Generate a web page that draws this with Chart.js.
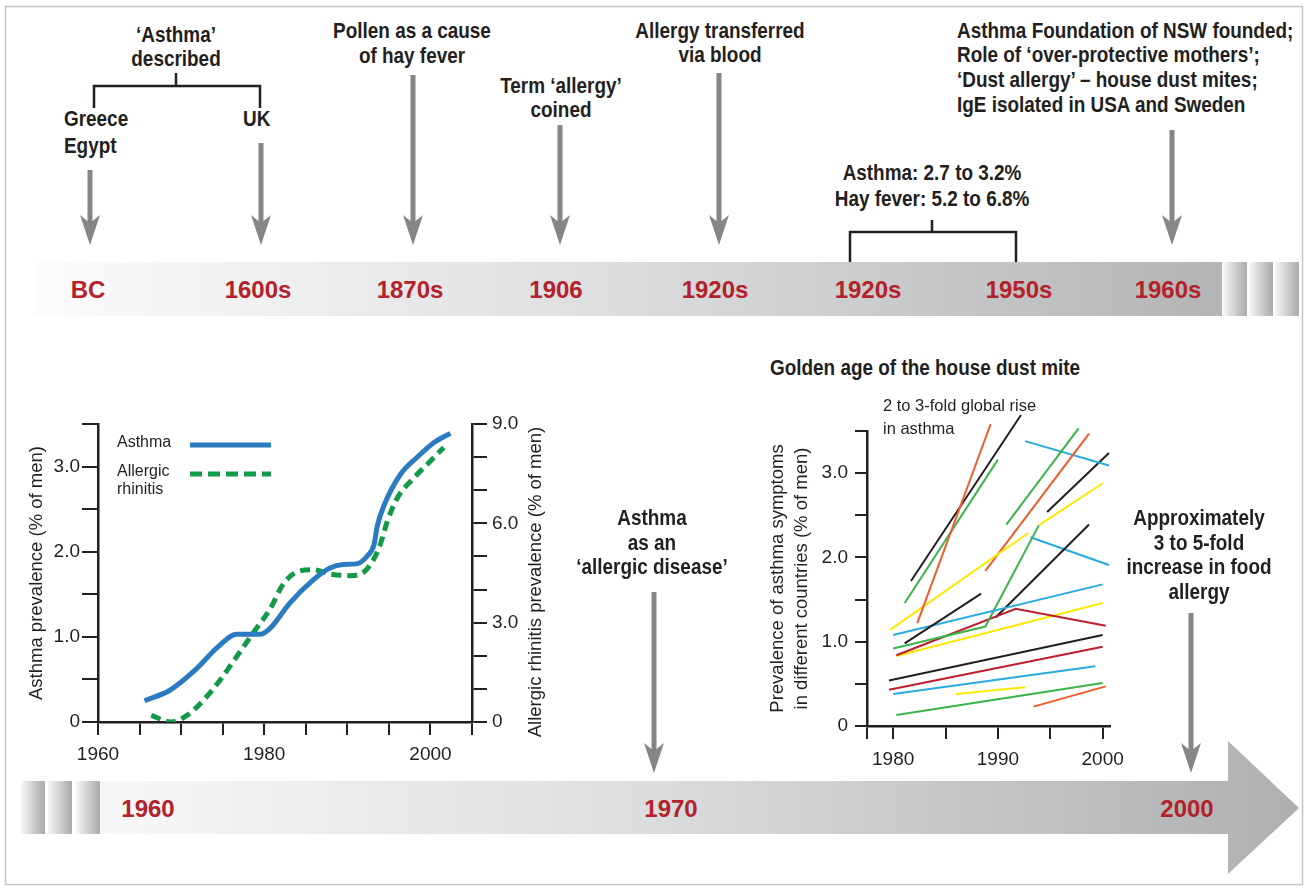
<!DOCTYPE html>
<html>
<head>
<meta charset="utf-8">
<script src="https://cdn.jsdelivr.net/npm/chart.js@4.4.1/dist/chart.umd.min.js"></script>
<style>
  html, body { margin: 0; padding: 0; background: #fff; }
  #page { position: relative; width: 1308px; height: 889px; overflow: hidden; }
  svg.decor { position: absolute; left: 0; top: 0; z-index: 0; }
  canvas { position: absolute; z-index: 1; }
  .note { position: absolute; z-index: 2; white-space: nowrap; color: #231f20;
          font-family: 'Liberation Sans', sans-serif; font-weight: bold; font-size: 22px;
          transform: scaleX(0.86); transform-origin: left center; }
  .c { text-align: center; width: 300px; transform-origin: center center; }
  .plain { position: absolute; z-index: 2; white-space: nowrap; color: #231f20;
           font-family: 'Liberation Sans', sans-serif; font-weight: normal; }
  .era { position: absolute; z-index: 2; width: 120px; height: 30px; line-height: 30px; text-align: center;
         font-family: 'Liberation Sans', sans-serif; font-weight: bold; font-size: 24px; color: #b3222a; }
</style>
</head>
<body>
<div id="page">

<svg class="decor" width="1308" height="889">
  <defs>
    <linearGradient id="gTop" gradientUnits="userSpaceOnUse" x1="35" y1="0" x2="1222" y2="0">
      <stop offset="0" stop-color="#fcfcfc"/>
      <stop offset="0.45" stop-color="#dfe0e2"/>
      <stop offset="1" stop-color="#b3b4b6"/>
    </linearGradient>
    <linearGradient id="gBot" gradientUnits="userSpaceOnUse" x1="100" y1="0" x2="1300" y2="0">
      <stop offset="0" stop-color="#f8f8f8"/>
      <stop offset="0.45" stop-color="#dcdddf"/>
      <stop offset="1" stop-color="#aeafb1"/>
    </linearGradient>
    <linearGradient id="gStripe" x1="0" y1="0" x2="1" y2="0">
      <stop offset="0" stop-color="#f7f7f7"/>
      <stop offset="1" stop-color="#a8a9ab"/>
    </linearGradient>
  </defs>
  <rect x="5.5" y="6.5" width="1297" height="878" fill="none" stroke="#c4c4c4" stroke-width="1.5"/>

  <!-- upper timeline band -->
  <rect x="35" y="262" width="1187" height="54" fill="url(#gTop)"/>
  <rect x="1223" y="262" width="24" height="54" fill="url(#gStripe)"/>
  <rect x="1249" y="262" width="24" height="54" fill="url(#gStripe)"/>
  <rect x="1275" y="262" width="24" height="54" fill="url(#gStripe)"/>

  <!-- lower timeline arrow -->
  <rect x="21" y="781" width="24" height="53" fill="url(#gStripe)"/>
  <rect x="48" y="781" width="24" height="53" fill="url(#gStripe)"/>
  <rect x="76" y="781" width="24" height="53" fill="url(#gStripe)"/>
  <path d="M100,781 H1228 V741 L1299,808 L1228,874 V834 H100 Z" fill="url(#gBot)"/>

  <!-- brackets -->
  <g stroke="#231f20" stroke-width="2.5" fill="none">
    <path d="M176,73 V86 M94,108 V86 H260 V108"/>
    <path d="M932,220 V232 M850,262 V232 H1016 V262"/>
  </g>

  <!-- legend samples for the left chart -->
  <line x1="190" y1="445" x2="271" y2="445" stroke="#2b7bc1" stroke-width="5"/>
  <line x1="190" y1="474" x2="271" y2="474" stroke="#129a48" stroke-width="5" stroke-dasharray="12 6"/>

  <g id="arrows" fill="#858688" stroke="none"></g>
</svg>

<canvas id="trend" width="560" height="380" style="left:0px; top:400px;"></canvas>
<canvas id="mites" width="400" height="390" style="left:740px; top:400px;"></canvas>

<!-- upper annotations -->
<div class="note c" style="left:26px; top:23px; line-height:24px;">‘Asthma’<br>described</div>
<div class="note" style="left:64px; top:104.5px; line-height:27px;">Greece<br>Egypt</div>
<div class="note" style="left:243px; top:104.5px; line-height:27px;">UK</div>
<div class="note c" style="left:262px; top:17.5px; line-height:25px;">Pollen as a cause<br>of hay fever</div>
<div class="note c" style="left:411px; top:74px; line-height:24px;">Term ‘allergy’<br>coined</div>
<div class="note c" style="left:570px; top:19px; line-height:24px;">Allergy transferred<br>via blood</div>
<div class="note" style="left:957px; top:18.6px; line-height:24.7px;">Asthma Foundation of NSW founded;<br>Role of ‘over-protective mothers’;<br>‘Dust allergy’ – house dust mites;<br>IgE isolated in USA and Sweden</div>
<div class="note c" style="left:782px; top:160px; line-height:26px;">Asthma: 2.7 to 3.2%<br>Hay fever: 5.2 to 6.8%</div>

<div class="era" style="left:28px; top:275px;">BC</div>
<div class="era" style="left:198px; top:275px;">1600s</div>
<div class="era" style="left:350px; top:275px;">1870s</div>
<div class="era" style="left:496px; top:275px;">1906</div>
<div class="era" style="left:655px; top:275px;">1920s</div>
<div class="era" style="left:808px; top:275px;">1920s</div>
<div class="era" style="left:959px; top:275px;">1950s</div>
<div class="era" style="left:1108px; top:275px;">1960s</div>

<!-- lower annotations -->
<div class="plain" style="left:117px; top:431px; font-size:16px; line-height:22px;">Asthma</div>
<div class="plain" style="left:117px; top:462px; font-size:16px; line-height:18px;">Allergic<br>rhinitis</div>
<div class="plain" style="left:335px; top:571px; width:400px; text-align:center; font-size:18.5px; line-height:22px; transform:rotate(-90deg);">Allergic rhinitis prevalence (% of men)</div>

<div class="note" style="left:770px; top:356px; line-height:24px;">Golden age of the house dust mite</div>
<div class="plain" style="left:883px; top:393.5px; font-size:16.5px; line-height:23px;">2 to 3-fold global rise<br>in asthma</div>
<div class="note c" style="left:502px; top:506px; line-height:24.5px;">Asthma<br>as an<br>‘allergic disease’</div>
<div class="note c" style="left:1049px; top:506px; line-height:24.5px;">Approximately<br>3 to 5-fold<br>increase in food<br>allergy</div>

<div class="era" style="left:88px; top:794px;">1960</div>
<div class="era" style="left:611px; top:794px;">1970</div>
<div class="era" style="left:1127px; top:794px;">2000</div>

</div>

<script>
// ====== DATA: asthma vs allergic rhinitis (left panel) ======
const asthmaYears  = [1965.6, 1968.6, 1971.9, 1974.3, 1976.7, 1979.5, 1980.7, 1983.1, 1985.9, 1987.9,
                      1989.5, 1991.2, 1992.4, 1993.2, 1993.6, 1994.4, 1996.4, 1998.4, 2000.4, 2002.4];
const asthmaValues = [0.25, 0.37, 0.63, 0.87, 1.03, 1.03, 1.10, 1.40, 1.67, 1.81,
                      1.85, 1.86, 1.95, 2.08, 2.30, 2.54, 2.91, 3.11, 3.28, 3.39];

const rhinitisYears  = [1966.4, 1968.8, 1970.7, 1972.7, 1974.7, 1976.7, 1978.7, 1980.7, 1982.3, 1983.9,
                        1985.9, 1987.9, 1990.4, 1992.0, 1993.2, 1994.0, 1994.8, 1996.0, 1998.0, 2000.0, 2001.6];
const rhinitisValues = [0.20, 0.00, 0.20, 0.66, 1.27, 1.98, 2.70, 3.41, 4.17, 4.53,
                        4.60, 4.47, 4.42, 4.53, 4.93, 5.39, 6.05, 6.76, 7.37, 7.88, 8.29];

const trendTickYears  = [1960, 1965, 1970, 1975, 1980, 1985, 1990, 1995, 2000, 2005];
const trendLabelYears = [1960, 1980, 2000];
const asthmaTicks     = [0, 0.5, 1, 1.5, 2, 2.5, 3, 3.5];
const asthmaLabels    = [0, 1, 2, 3];
const rhinitisTicks   = [0, 1, 2, 3, 4, 5, 6, 7, 8, 9];
const rhinitisLabels  = [0, 3, 6, 9];

// ====== DATA: house dust mite era, one line per country (right panel) ======
const miteColors = ['#f15a29', '#231f20', '#39b54a', '#231f20', '#ffe800', '#29abe2', '#39b54a', '#be1e2d',
                    '#ffe800', '#231f20', '#f15a29', '#39b54a', '#29abe2', '#231f20', '#ffe800', '#29abe2',
                    '#231f20', '#be1e2d', '#29abe2', '#ffe800', '#39b54a', '#f15a29'];
const miteYears = [
  [1982.3, 1989.3], [1981.7, 1992.2], [1981.1, 1990.0], [1981.1, 1988.4],
  [1979.7, 1992.9], [1980.0, 2000.0], [1980.0, 1988.8, 1993.9], [1980.3, 1991.7, 2000.3],
  [1980.3, 2000.0], [1989.8, 1998.7], [1988.8, 1998.7], [1990.8, 1997.7],
  [1992.6, 2000.6], [1994.7, 2000.6], [1993.9, 2000.0], [1993.1, 2000.6],
  [1979.6, 2000.0], [1979.6, 2000.0], [1980.0, 1999.3], [1986.0, 1992.6],
  [1980.3, 2000.0], [1993.4, 2000.3]
];
const miteValues = [
  [1.22, 3.58], [1.72, 3.69], [1.46, 3.16], [0.98, 1.57],
  [1.14, 2.29], [1.08, 1.68], [0.92, 1.18, 2.38], [0.84, 1.39, 1.19],
  [0.83, 1.46], [1.29, 2.39], [1.84, 3.47], [2.39, 3.53],
  [3.38, 3.09], [2.54, 3.24], [2.38, 2.88], [2.24, 1.91],
  [0.54, 1.08], [0.43, 0.94], [0.38, 0.71], [0.38, 0.46],
  [0.13, 0.51], [0.23, 0.47]
];
const miteTickYears  = [1977.5, 1980, 1985, 1990, 1995, 2000];
const miteLabelYears = [1980, 1990, 2000];
const miteYTicks     = [0, 0.5, 1, 1.5, 2, 2.5, 3, 3.5];
const miteYLabels    = [0, 1, 2, 3];

// ====== STYLE ======
const INK = '#231f20';
const BLUE = '#2b7bc1';
const GREEN = '#129a48';
Chart.defaults.font.family = "'Liberation Sans', sans-serif";
Chart.defaults.color = INK;

const setTicks = list => scale => { scale.ticks = list.map(v => ({ value: v })); };
const fmt = v => (v === 0 ? '0' : v.toFixed(1));
const axisGrid = len => ({ drawOnChartArea: false, drawTicks: true, tickLength: len, color: INK, lineWidth: 2 });
const axisBorder = { display: true, color: INK, width: 2.5 };

// ====== LEFT PANEL ======
new Chart(document.getElementById('trend'), {
  type: 'line',
  data: {
    datasets: [
      {
        label: 'Asthma',
        data: asthmaYears.map((x, i) => ({ x, y: asthmaValues[i] })),
        yAxisID: 'y',
        borderColor: BLUE, borderWidth: 5, pointRadius: 0,
        cubicInterpolationMode: 'monotone'
      },
      {
        label: 'Allergic rhinitis',
        data: rhinitisYears.map((x, i) => ({ x, y: rhinitisValues[i] })),
        yAxisID: 'y2',
        borderColor: GREEN, borderWidth: 5, borderDash: [10, 6], pointRadius: 0,
        cubicInterpolationMode: 'monotone'
      }
    ]
  },
  options: {
    responsive: false, animation: false,
    layout: { padding: { top: 24, left: 0, right: 0, bottom: 0 } },
    plugins: { legend: { display: false }, tooltip: { enabled: false } },
    scales: {
      x: {
        type: 'linear', min: 1960, max: 2005,
        afterBuildTicks: setTicks(trendTickYears),
        afterFit: s => { s.height = 58; },
        ticks: { autoSkip: false, maxRotation: 0, padding: 8, font: { size: 19 },
                 callback: v => (trendLabelYears.includes(v) ? String(v) : '') },
        grid: axisGrid(13), border: axisBorder
      },
      y: {
        position: 'left', min: 0, max: 3.5,
        afterBuildTicks: setTicks(asthmaTicks),
        afterFit: s => { s.width = 98; },
        ticks: { autoSkip: false, padding: 2, font: { size: 19 },
                 callback: v => (asthmaLabels.includes(v) ? fmt(v) : '') },
        grid: axisGrid(16), border: axisBorder,
        title: { display: true, text: 'Asthma prevalence (% of men)', font: { size: 18.5 }, padding: { top: 26, bottom: 0 } }
      },
      y2: {
        position: 'right', min: 0, max: 9,
        afterBuildTicks: setTicks(rhinitisTicks),
        afterFit: s => { s.width = 88; },
        ticks: { autoSkip: false, padding: 5, font: { size: 19 },
                 callback: v => (rhinitisLabels.includes(v) ? fmt(v) : '') },
        grid: axisGrid(15), border: axisBorder
      }
    }
  }
});

// ====== RIGHT PANEL ======
new Chart(document.getElementById('mites'), {
  type: 'line',
  data: {
    datasets: miteYears.map((years, k) => ({
      data: years.map((x, i) => ({ x, y: miteValues[k][i] })),
      borderColor: miteColors[k], borderWidth: 2, pointRadius: 0, tension: 0, clip: false
    }))
  },
  options: {
    responsive: false, animation: false,
    layout: { padding: { top: 31, left: 0, right: 30, bottom: 0 } },
    plugins: { legend: { display: false }, tooltip: { enabled: false } },
    scales: {
      x: {
        type: 'linear', min: 1977.5, max: 2000.7,
        afterBuildTicks: setTicks(miteTickYears),
        afterFit: s => { s.height = 64; },
        ticks: { autoSkip: false, maxRotation: 0, padding: 9, font: { size: 19 },
                 callback: v => (miteLabelYears.includes(v) ? String(v) : '') },
        grid: axisGrid(13), border: axisBorder
      },
      y: {
        position: 'left', min: 0, max: 3.5,
        afterBuildTicks: setTicks(miteYTicks),
        afterFit: s => { s.width = 127; },
        ticks: { autoSkip: false, padding: 7, font: { size: 19 },
                 callback: v => (miteYLabels.includes(v) ? fmt(v) : '') },
        grid: axisGrid(12), border: axisBorder,
        title: { display: true, text: ['Prevalence of asthma symptoms', 'in different countries (% of men)'],
                 font: { size: 18.5, lineHeight: 1.3 }, padding: { top: 26, bottom: 0 } }
      }
    }
  }
});

// ====== DECOR: grey pointer arrows ======
function arrow(x, top, tip) {
  const g = document.getElementById('arrows');
  const ns = 'http://www.w3.org/2000/svg';
  const shaft = document.createElementNS(ns, 'rect');
  shaft.setAttribute('x', x - 2.5); shaft.setAttribute('y', top);
  shaft.setAttribute('width', 5); shaft.setAttribute('height', tip - top - 20);
  g.appendChild(shaft);
  const head = document.createElementNS(ns, 'path');
  head.setAttribute('d', `M${x - 10},${tip - 30} L${x},${tip - 22} L${x + 10},${tip - 30} L${x},${tip} Z`);
  g.appendChild(head);
}
arrow(90, 170, 245);
arrow(261, 143, 245);
arrow(413, 75, 245);
arrow(560, 125, 245);
arrow(719, 73, 245);
arrow(1172, 130, 245);
arrow(654, 592, 773);
arrow(1191, 613, 773);
</script>
</body>
</html>
